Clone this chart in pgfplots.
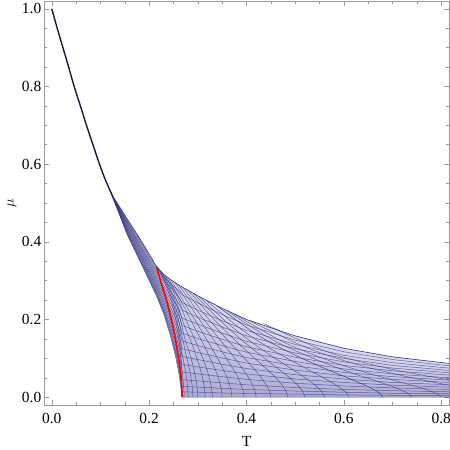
\documentclass[border=0pt]{standalone}
\usepackage{fontspec}
\setmainfont{Liberation Serif}
\usepackage{pgfplots}
\usepackage{pgfplotstable}
\pgfplotsset{compat=1.18}
\usepgfplotslibrary{fillbetween}
\definecolor{mblue}{rgb}{0.24,0.24,0.6}
\definecolor{lblue}{rgb}{0.2,0.2,0.5}
\definecolor{framegray}{gray}{0.6}
\definecolor{trunkc}{rgb}{0.1,0.1,0.26}

\pgfplotstableread{
T      L     s05   s10   s16   s23   s30   s37   s44   s51   s58   s65   s72   s79   s86   s93   U
0.125  0.515 0.515 0.515 0.515 0.516 0.516 0.516 0.516 0.517 0.517 0.517 0.517 0.517 0.518 0.518 0.518
0.155  0.418 0.420 0.422 0.425 0.427 0.430 0.433 0.436 0.439 0.442 0.445 0.448 0.450 0.453 0.456 0.459
0.185  0.340 0.343 0.346 0.350 0.354 0.358 0.362 0.366 0.371 0.375 0.379 0.383 0.387 0.392 0.396 0.400
0.215  0.261 0.265 0.269 0.273 0.279 0.284 0.289 0.294 0.300 0.305 0.310 0.316 0.321 0.326 0.332 0.337
0.23   0.214 0.219 0.224 0.230 0.238 0.245 0.252 0.259 0.266 0.273 0.280 0.287 0.295 0.302 0.309 0.316
0.245  0.153 0.160 0.168 0.177 0.187 0.198 0.208 0.219 0.229 0.239 0.250 0.260 0.271 0.281 0.292 0.302
0.255  0.100 0.110 0.119 0.131 0.145 0.158 0.172 0.185 0.199 0.213 0.226 0.240 0.253 0.267 0.280 0.294
0.262  0.055 0.067 0.078 0.092 0.109 0.125 0.141 0.158 0.174 0.190 0.207 0.223 0.239 0.255 0.272 0.288
0.2676 0.000 0.014 0.028 0.045 0.065 0.085 0.105 0.125 0.145 0.165 0.185 0.204 0.224 0.244 0.264 0.284
0.3    0.000 0.013 0.026 0.042 0.060 0.078 0.097 0.115 0.133 0.151 0.170 0.188 0.206 0.224 0.243 0.261
0.35   0.000 0.011 0.023 0.037 0.053 0.069 0.085 0.101 0.117 0.133 0.149 0.165 0.181 0.197 0.213 0.229
0.4    0.000 0.010 0.020 0.032 0.046 0.060 0.074 0.088 0.102 0.116 0.130 0.144 0.158 0.172 0.186 0.200
0.5    0.000 0.008 0.016 0.025 0.036 0.047 0.058 0.070 0.081 0.092 0.103 0.114 0.125 0.136 0.147 0.158
0.6    0.000 0.006 0.013 0.020 0.029 0.038 0.047 0.055 0.064 0.073 0.082 0.091 0.100 0.108 0.117 0.126
0.7    0.000 0.005 0.010 0.017 0.024 0.031 0.038 0.046 0.053 0.060 0.068 0.075 0.082 0.089 0.097 0.104
0.816  0.000 0.004 0.009 0.014 0.020 0.026 0.032 0.038 0.044 0.050 0.057 0.063 0.069 0.075 0.081 0.087
}\Atab

\pgfplotsset{
  aline/.style={lblue, line width=0.5bp, draw opacity=0.7},
  bline/.style={lblue, line width=0.5bp, draw opacity=0.7, smooth, tension=0.5},
}

\begin{document}
\begin{tikzpicture}
\begin{axis}[
  scale only axis, width=405bp, height=404bp,
  xmin=-0.016, xmax=0.816, ymin=-0.02, ymax=1.02,
  xtick={0,0.2,0.4,0.6,0.8}, ytick={0,0.2,0.4,0.6,0.8,1.0},
  minor x tick num=3, minor y tick num=3,
  tick align=inside,
  major tick length=5bp, minor tick length=3bp,
  axis line style={framegray, line width=0.6bp},
  every tick/.style={framegray, line width=0.5bp},
  /pgf/number format/fixed,
  /pgf/number format/fixed zerofill,
  /pgf/number format/precision=1,
  /pgf/number format/assume math mode=true,
  font=\fontsize{15.5}{18}\selectfont,
  xticklabel style={anchor=base, inner sep=0pt, yshift=-18bp},
  yticklabel style={anchor=east, inner sep=0pt, xshift=-2.5bp},
  xlabel={T},
  xlabel style={at={(axis description cs:0.5,-0.1032)}, anchor=base, inner sep=0pt},
  ylabel={$\mu$},
  ylabel style={at={(axis description cs:-0.079,0.5)}, anchor=center, inner sep=0pt},
]
\coordinate (SW) at (rel axis cs:0,0);
\coordinate (NE) at (rel axis cs:1,1);

% invisible named paths
\pgfplotsinvokeforeach{s05,s10,s16,s23,s30,s37,s44,s51,s58,s65,s72,s79,s86,s93,U}{
  \addplot[draw=none, name path=#1] table[x=T,y=#1]{\Atab};
}
\addplot[draw=none, name path=L] table[x=T,y=L]{\Atab};

% fills
\addplot[fill=mblue, fill opacity=0.2, draw=none] fill between[of=U and L];
\pgfplotsinvokeforeach{s05,s10,s16,s23,s30,s37,s44,s51,s58,s65,s72,s79,s86,s93}{
  \addplot[fill=mblue, fill opacity=0.022, draw=none] fill between[of=#1 and L];
}

% family A curves
\pgfplotsinvokeforeach{L,s05,s10,s16,s23,s30,s37,s44,s51,s58,s65,s72,s79,s86,s93}{
  \addplot[aline] table[x=T,y=#1]{\Atab};
}
\addplot[lblue, line width=0.65bp, draw opacity=0.95] table[x=T,y=U]{\Atab};

% family B curves
\addplot[bline] coordinates {(0.272,0) (0.2709,0.028) (0.2667,0.080) (0.2602,0.157) (0.2518,0.217) (0.2416,0.264) (0.2297,0.301) (0.2163,0.335)};
\addplot[bline] coordinates {(0.28,0) (0.2788,0.028) (0.2742,0.070) (0.2671,0.117) (0.2578,0.198) (0.2466,0.254) (0.2335,0.296) (0.2187,0.332)};
\addplot[bline] coordinates {(0.29,0) (0.2886,0.027) (0.2835,0.068) (0.2756,0.111) (0.2653,0.170) (0.2528,0.241) (0.2382,0.289) (0.2217,0.328)};
\addplot[bline] coordinates {(0.30,0) (0.2985,0.026) (0.2928,0.0665) (0.2841,0.109) (0.2727,0.154) (0.259,0.226) (0.2429,0.282) (0.2247,0.323)};
\addplot[bline] coordinates {(0.315,0) (0.3133,0.025) (0.3068,0.064) (0.2969,0.105) (0.2839,0.150) (0.2682,0.1985) (0.2499,0.273) (0.2292,0.317)};
\addplot[bline] coordinates {(0.33,0) (0.3281,0.024) (0.3209,0.062) (0.3097,0.102) (0.2951,0.145) (0.2775,0.194) (0.2569,0.262) (0.2337,0.312)};
\addplot[bline] coordinates {(0.35,0) (0.3478,0.023) (0.3395,0.059) (0.3267,0.097) (0.3101,0.140) (0.2899,0.188) (0.2663,0.245) (0.2397,0.306)};
\addplot[bline] coordinates {(0.37,0) (0.3675,0.022) (0.3582,0.056) (0.3438,0.093) (0.325,0.134) (0.3023,0.182) (0.2757,0.236) (0.2457,0.301)};
\addplot[bline] coordinates {(0.395,0) (0.3922,0.020) (0.3815,0.053) (0.3651,0.088) (0.3437,0.128) (0.3177,0.174) (0.2874,0.229) (0.2532,0.295)};
\addplot[bline] coordinates {(0.42,0) (0.4168,0.019) (0.4049,0.049) (0.3864,0.083) (0.3623,0.122) (0.3332,0.167) (0.2991,0.222) (0.2607,0.289)};
\addplot[bline] coordinates {(0.45,0) (0.4464,0.018) (0.4329,0.046) (0.412,0.078) (0.3847,0.115) (0.3517,0.160) (0.3131,0.214) (0.2697,0.2825)};
\addplot[bline] coordinates {(0.485,0) (0.4809,0.0165) (0.4655,0.043) (0.4418,0.072) (0.4109,0.107) (0.3734,0.1505) (0.3296,0.205) (0.2802,0.275)};
\addplot[bline] coordinates {(0.52,0) (0.5154,0.0153) (0.4982,0.040) (0.4716,0.067) (0.437,0.1005) (0.395,0.142) (0.346,0.197) (0.2907,0.2675)};
\addplot[bline] coordinates {(0.56,0) (0.5549,0.014) (0.5356,0.0365) (0.5057,0.0624) (0.4669,0.0937) (0.4198,0.1333) (0.3647,0.187) (0.3027,0.259)};
\addplot[bline] coordinates {(0.61,0) (0.6042,0.0125) (0.5822,0.033) (0.5483,0.0566) (0.5042,0.0861) (0.4507,0.1237) (0.3881,0.1757) (0.3177,0.249)};
\addplot[bline, draw opacity=0.95] coordinates {(0.68,0) (0.6732,0.0108) (0.6476,0.0287) (0.608,0.0496) (0.5564,0.0765) (0.494,0.112) (0.421,0.1615) (0.3387,0.236)};
\addplot[bline] coordinates {(0.74,0) (0.7323,0.0099) (0.7036,0.0259) (0.6591,0.0449) (0.6012,0.0691) (0.5311,0.1033) (0.4491,0.1507) (0.3567,0.225)};
\addplot[bline] coordinates {(0.80,0) (0.7915,0.0089) (0.7596,0.0237) (0.7103,0.041) (0.646,0.0633) (0.5682,0.0949) (0.4772,0.1413) (0.3747,0.214)};
\addplot[bline] coordinates {(0.853,0.021) (0.7955,0.0359) (0.7207,0.0554) (0.6301,0.0832) (0.5241,0.1273) (0.4047,0.198)};
\addplot[bline] coordinates {(0.881,0.032) (0.7954,0.0493) (0.6919,0.0739) (0.5709,0.1145) (0.4347,0.190)};

% trunk
\addplot[trunkc, line width=1.4bp, smooth] coordinates {(0,1) (0.01,0.955) (0.02,0.912) (0.03,0.87) (0.046,0.80) (0.06,0.745) (0.07,0.705) (0.08,0.667) (0.098,0.60) (0.11,0.56) (0.125,0.517)};

% red curve
\addplot[red, line width=1.6bp, smooth] coordinates {(0.2676,0) (0.2672,0.02) (0.266,0.045) (0.2635,0.075) (0.259,0.112) (0.253,0.156) (0.245,0.203) (0.235,0.253) (0.225,0.293) (0.215,0.336)};
\end{axis}
\pgfresetboundingbox
\path[use as bounding box] ([xshift=-44bp,yshift=-45bp]SW) rectangle ([xshift=1bp,yshift=1bp]NE);
\end{tikzpicture}
\end{document}
